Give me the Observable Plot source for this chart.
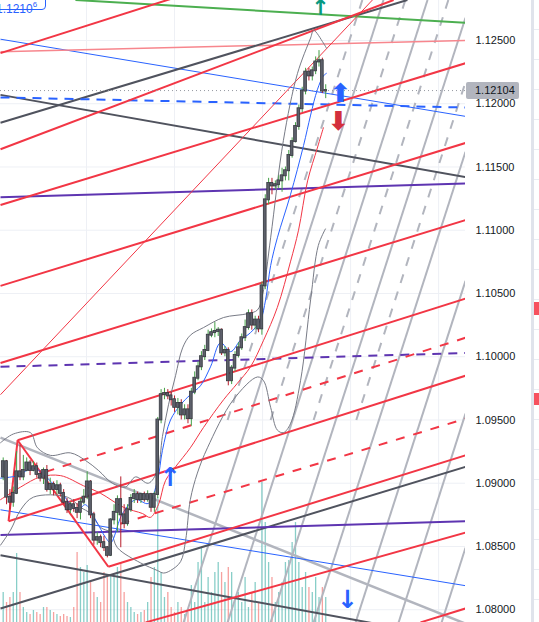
<!DOCTYPE html>
<html><head><meta charset="utf-8">
<script src="https://cdn.jsdelivr.net/npm/d3@7"></script>
<script src="https://cdn.jsdelivr.net/npm/@observablehq/plot@0.6"></script>
<style>
html,body{margin:0;padding:0;background:#fff;}
#wrap{position:relative;width:539px;height:622px;overflow:hidden;font-family:"Liberation Sans",Arial,sans-serif;}
#wrap svg{display:block;position:absolute;left:0;top:0;}
.tagL{position:absolute;left:-14px;top:-9px;width:60px;height:19px;border:1px solid #2962ff;border-radius:4px;background:#fff;color:#2962ff;font-size:12px;line-height:26px;padding-left:9px;box-sizing:border-box;}
.tagL sup{font-size:8px;vertical-align:6px;}
.tagR{position:absolute;left:466px;top:82px;width:53px;height:17px;background:#b2b5be;color:#131722;font-size:11px;line-height:17px;border-radius:2px;padding-left:9px;box-sizing:border-box;}
.strip{position:absolute;left:531px;top:0;width:3px;height:622px;background:#e0e3eb;}
.strip2{position:absolute;left:534px;top:0;width:5px;height:622px;background:repeating-linear-gradient(to bottom,#fff 0px,#fff 29px,#e9ecf2 29px,#e9ecf2 30px);}
.mk{position:absolute;left:534px;width:5px;background:#f7525f;}
</style></head><body><div id="wrap"></div>
<script>
// ---- candles (one value per bar) ----
const open = [1.0905,1.0917,1.0889,1.0885,1.0892,1.0909,1.0905,1.0910,1.0916,1.0910,1.0913,1.0907,1.0904,1.0910,1.0895,1.0899,1.0895,1.0898,1.0892,1.0885,1.0879,1.0883,1.0880,1.0877,1.0885,1.0889,1.0901,1.0875,1.0855,1.0857,1.0853,1.0849,1.0843,1.0871,1.0877,1.0887,1.0875,1.0868,1.0879,1.0888,1.0891,1.0887,1.0891,1.0887,1.0891,1.0881,1.0891,1.0950,1.0970,1.0971,1.0969,1.0966,1.0960,1.0963,1.0954,1.0958,1.0951,1.0972,1.0983,1.0992,1.1000,1.1005,1.1017,1.1019,1.1020,1.1021,1.1003,1.1005,1.0981,1.0991,1.1001,1.1007,1.1015,1.1023,1.1034,1.1025,1.1029,1.1022,1.1056,1.1124,1.1137,1.1135,1.1136,1.1139,1.1143,1.1147,1.1159,1.1170,1.1182,1.1196,1.1210,1.1225,1.1222,1.1226,1.1233,1.1234,1.1210];
const high = [1.0920,1.0918,1.0895,1.0897,1.0925,1.0930,1.0922,1.0920,1.0918,1.0917,1.0916,1.0910,1.0912,1.0914,1.0904,1.0901,1.0902,1.0900,1.0895,1.0888,1.0885,1.0887,1.0884,1.0888,1.0895,1.0909,1.0902,1.0877,1.0861,1.0859,1.0858,1.0850,1.0872,1.0883,1.0890,1.0905,1.0883,1.0883,1.0891,1.0895,1.0893,1.0892,1.0893,1.0894,1.0892,1.0893,1.0952,1.0974,1.0975,1.0974,1.0972,1.0969,1.0967,1.0966,1.0962,1.0962,1.0975,1.0988,1.0996,1.1004,1.1009,1.1021,1.1022,1.1027,1.1023,1.1022,1.1008,1.1007,1.0993,1.1004,1.1011,1.1018,1.1029,1.1037,1.1037,1.1032,1.1032,1.1059,1.1128,1.1141,1.1141,1.1139,1.1143,1.1149,1.1150,1.1163,1.1173,1.1185,1.1199,1.1213,1.1228,1.1228,1.1229,1.1237,1.1242,1.1236,1.1215];
const low = [1.0902,1.0883,1.0879,1.0881,1.0891,1.0902,1.0902,1.0909,1.0906,1.0909,1.0904,1.0901,1.0899,1.0893,1.0891,1.0890,1.0891,1.0889,1.0883,1.0876,1.0876,1.0877,1.0872,1.0871,1.0883,1.0887,1.0872,1.0851,1.0851,1.0849,1.0846,1.0841,1.0842,1.0867,1.0861,1.0849,1.0864,1.0866,1.0877,1.0884,1.0884,1.0884,1.0885,1.0885,1.0877,1.0877,1.0888,1.0947,1.0966,1.0966,1.0961,1.0956,1.0954,1.0950,1.0950,1.0947,1.0945,1.0970,1.0981,1.0989,1.0997,1.1004,1.1015,1.1015,1.1016,1.1001,1.1000,1.0977,1.0978,1.0988,1.0999,1.1005,1.1012,1.1021,1.1021,1.1021,1.1019,1.1017,1.1053,1.1120,1.1128,1.1132,1.1133,1.1130,1.1139,1.1139,1.1157,1.1169,1.1179,1.1193,1.1207,1.1218,1.1218,1.1223,1.1229,1.1208,1.1204];
const close = [1.0917,1.0889,1.0885,1.0892,1.0909,1.0905,1.0910,1.0916,1.0910,1.0913,1.0907,1.0904,1.0910,1.0895,1.0899,1.0895,1.0898,1.0892,1.0885,1.0879,1.0883,1.0880,1.0877,1.0885,1.0889,1.0901,1.0875,1.0855,1.0857,1.0853,1.0849,1.0843,1.0871,1.0877,1.0887,1.0875,1.0868,1.0879,1.0888,1.0891,1.0887,1.0891,1.0887,1.0891,1.0881,1.0891,1.0950,1.0970,1.0971,1.0969,1.0966,1.0960,1.0963,1.0954,1.0958,1.0951,1.0972,1.0983,1.0992,1.1000,1.1005,1.1017,1.1019,1.1020,1.1021,1.1003,1.1005,1.0981,1.0991,1.1001,1.1007,1.1015,1.1023,1.1034,1.1025,1.1029,1.1022,1.1056,1.1124,1.1137,1.1135,1.1136,1.1139,1.1143,1.1147,1.1159,1.1170,1.1182,1.1196,1.1210,1.1225,1.1222,1.1226,1.1233,1.1234,1.1210,1.12104];
const volume = [30,20,25,30,69,30,15,10,8,12,10,8,15,15,12,10,8,6,8,6,5,15,70,55,50,57,40,30,25,20,50,45,48,45,55,60,30,20,15,10,8,10,12,20,45,55,125,50,25,30,15,10,20,15,8,10,37,20,60,75,20,45,30,50,60,50,40,55,50,25,30,20,45,15,30,40,20,140,100,60,45,20,30,40,60,62,80,100,60,35,50,35,30,45,25,35,25];
const lastPrice = 1.12104;
const priceTicks = [1.080,1.085,1.090,1.095,1.100,1.105,1.110,1.115,1.120,1.125];
const timeGrid = [24.8,51.0,77.2,103.4,129.6];

// ---- indicator curves: [bar, price] ----
const maBlue = [[-0.8,1.0904],[4.3,1.0906],[9.0,1.0912],[13.2,1.0904],[17.7,1.0891],[22.1,1.0879],[24.5,1.0883],[27.5,1.0871],[30.5,1.0857],[32.0,1.0853],[35.5,1.0876],[39.4,1.0887],[43.2,1.0884],[45.9,1.0902],[47.4,1.0926],[49.8,1.0950],[52.8,1.0962],[55.7,1.0970],[58.7,1.0977],[61.7,1.0992],[64.7,1.1011],[67.7,1.1004],[70.6,1.1013],[73.6,1.1019],[76.6,1.1029],[78.1,1.1045],[79.6,1.1072],[81.6,1.1094],[85.5,1.1128],[89.4,1.1167],[91.5,1.1191],[93.5,1.1211],[95.3,1.1222],[96.2,1.1224]];
const maRed = [[-0.8,1.0887],[5.2,1.0897],[11.1,1.0905],[17.1,1.0906],[23.9,1.0898],[29.0,1.0892],[35.8,1.0881],[41.5,1.0876],[43.8,1.0873],[46.2,1.0883],[48.3,1.0902],[51.3,1.0913],[55.7,1.0928],[59.6,1.0944],[65.6,1.0966],[69.7,1.0979],[73.6,1.0992],[77.5,1.1013],[81.6,1.1039],[85.5,1.1075],[87.9,1.1100],[90.6,1.1139],[93.5,1.1165],[95.3,1.1181]];
const bandUpper = [[-0.8,1.0932],[3.1,1.0939],[8.1,1.0940],[10.2,1.0928],[14.1,1.0922],[20.0,1.0924],[24.5,1.0918],[28.4,1.0910],[32.5,1.0900],[36.4,1.0897],[39.4,1.0905],[43.2,1.0900],[45.9,1.0910],[47.4,1.0937],[49.2,1.0962],[51.3,1.0985],[53.4,1.1007],[55.7,1.1017],[59.6,1.1023],[65.6,1.1031],[72.7,1.1034],[75.7,1.1037],[77.2,1.1049],[79.6,1.1094],[83.4,1.1171],[87.6,1.1224],[91.5,1.1252],[92.4,1.1258],[95.3,1.1248],[96.2,1.1244]];
const bandLower = [[-0.8,1.0851],[2.2,1.0863],[5.2,1.0879],[9.0,1.0889],[19.1,1.0889],[23.0,1.0881],[26.0,1.0876],[29.0,1.0865],[32.0,1.0861],[34.0,1.0849],[40.9,1.0837],[45.9,1.0831],[47.7,1.0829],[49.8,1.0831],[52.8,1.0838],[54.3,1.0855],[55.7,1.0887],[57.8,1.0908],[60.8,1.0928],[68.5,1.0966],[75.7,1.0984],[77.5,1.0981],[79.6,1.0960],[81.6,1.0942],[83.4,1.0940],[85.5,1.0947],[88.5,1.0981],[91.5,1.1045],[93.8,1.1088],[95.9,1.1101]];

// ---- drawn trend lines: [bar1, price1, bar2, price2] ----
const redSolid = [[-0.8,1.1240,137.6,1.1357],[-0.8,1.1164,116.2,1.1282],[-0.8,1.1120,137.6,1.1232],[-0.8,1.1056,137.6,1.1169],[-0.8,1.0995,137.6,1.1108],[4.3,1.0934,137.6,1.1046],[1.6,1.0870,137.6,1.0985],[31.3,1.0834,137.6,1.0922],[4.3,1.0934,31.3,1.0834],[4.3,1.0934,1.6,1.0870],[42.4,1.0790,137.6,1.0861],[124.2,1.0790,137.6,1.0801]];
const redDashed = [[12.6,1.0909,137.6,1.1015],[34.9,1.0868,137.6,1.0951]];
const redThin = [[-0.8,1.0970,109.9,1.1282]];
const pinkThin = [[-0.8,1.1241,137.6,1.1250]];
const darkLines = [[-0.8,1.1185,120.3,1.1282],[-0.8,1.1207,137.6,1.1142],[-0.8,1.0801,137.6,1.0913],[-0.8,1.0843,137.6,1.0776]];
const greenLines = [[21.5,1.1282,137.6,1.1264]];
const blueThin = [[-0.8,1.1251,137.6,1.1190],[-0.8,1.0879,137.6,1.0819]];
const blueDashed = [[-0.8,1.1205,137.6,1.1197]];
const purpleSolid = [[-0.8,1.1126,137.6,1.1137],[-0.8,1.0859,137.6,1.0870]];
const purpleDashed = [[-0.8,1.0992,137.6,1.1003]];
const greyThick = [[-0.8,1.0936,137.6,1.0789]];
const greySteep = [[53.7,1.0790,113.2,1.1282],[66.8,1.0790,126.3,1.1282],[79.6,1.0790,137.6,1.1268],[92.4,1.0790,137.6,1.1162],[104.9,1.0790,137.6,1.1060],[117.7,1.0790,137.6,1.0955],[130.5,1.0790,137.6,1.0849]];
const greySteepDashed = [[66.8,1.0950,106.9,1.1282],[79.6,1.0950,119.7,1.1282],[92.4,1.0950,132.5,1.1282],[105.1,1.0950,137.6,1.1217]];

// ---- arrow markers ----
const arrows = [
  {bar:100.4, price:1.1208, glyph:"⬆", color:"#2962ff", size:26},
  {bar:99.8, price:1.1186, glyph:"⬇", color:"#d32f3c", size:26},
  {bar:94.4, price:1.1276, glyph:"↑", color:"#089981", size:22},
  {bar:49.8, price:1.0904, glyph:"↑", color:"#2962ff", size:26},
  {bar:102.5, price:1.0808, glyph:"↓", color:"#2962ff", size:25}
];

const candles = open.map((o, i) => ({i, o, h: high[i], l: low[i], c: close[i], v: volume[i]}));
const yMin = 1.07899, yMax = 1.12816;
const volTop = v => yMin + v / 140 * 0.225 * (yMax - yMin);

const seg = (data, opts) => Plot.link(data, {x1: d => d[0], y1: d => d[1], x2: d => d[2], y2: d => d[3], clip: true, ...opts});
const curve = (data, opts) => Plot.line(data, {x: d => d[0], y: d => d[1], clip: true, curve: "catmull-rom", ...opts});

const chart = Plot.plot({
  width: 539, height: 622,
  marginLeft: 0, marginRight: 74, marginTop: 0, marginBottom: 0,
  style: {background: "transparent", fontFamily: "Liberation Sans, Arial, sans-serif", fontSize: "11px", color: "#131722"},
  x: {domain: [-0.8, 137.6], axis: null},
  y: {domain: [yMin, yMax], axis: null},
  marks: [
    Plot.gridY(priceTicks, {stroke: "#eef0f5", strokeOpacity: 1}),
    Plot.gridX(timeGrid, {stroke: "#eef0f5", strokeOpacity: 1}),
    Plot.ruleX(candles, {x: "i", y1: yMin, y2: d => volTop(d.v), stroke: d => d.c >= d.o ? "#26a69a" : "#ef5350", strokeOpacity: 0.55, strokeWidth: 1.3}),
    seg(greySteep, {stroke: "#b2b5be", strokeWidth: 2}),
    seg(greySteepDashed, {stroke: "#b2b5be", strokeWidth: 2, strokeDasharray: "9,9"}),
    seg(greyThick, {stroke: "#b2b5be", strokeWidth: 2.5}),
    seg(blueThin, {stroke: "#2962ff", strokeWidth: 1}),
    seg(pinkThin, {stroke: "#f7868d", strokeWidth: 1.5}),
    seg(darkLines, {stroke: "#50535e", strokeWidth: 2}),
    seg(purpleSolid, {stroke: "#5e35b1", strokeWidth: 2}),
    seg(purpleDashed, {stroke: "#5e35b1", strokeWidth: 2, strokeDasharray: "9,7"}),
    seg(blueDashed, {stroke: "#2962ff", strokeWidth: 2, strokeDasharray: "9,7"}),
    seg(greenLines, {stroke: "#4caf50", strokeWidth: 2}),
    seg(redThin, {stroke: "#f23645", strokeWidth: 1}),
    seg(redDashed, {stroke: "#f23645", strokeWidth: 2, strokeDasharray: "9,9"}),
    seg(redSolid, {stroke: "#f23645", strokeWidth: 2}),
    curve(bandUpper, {stroke: "#787b86", strokeWidth: 1}),
    curve(bandLower, {stroke: "#787b86", strokeWidth: 1}),
    curve(maRed, {stroke: "#f23645", strokeWidth: 1}),
    curve(maBlue, {stroke: "#2962ff", strokeWidth: 1}),
    Plot.ruleY([lastPrice], {stroke: "#9598a1", strokeDasharray: "1,3"}),
    Plot.ruleX(candles, {x: "i", y1: "l", y2: "h", stroke: d => d.c >= d.o ? "#43a047" : "#b71c2a", strokeWidth: 1}),
    Plot.rect(candles, {x1: d => d.i - 0.4, x2: d => d.i + 0.4, y1: d => Math.min(d.o, d.c), y2: d => Math.max(d.o, d.c), fill: "#5d606b", stroke: "#35383f", strokeWidth: 0.8, insetTop: -0.5, insetBottom: -0.5}),
    Plot.text(arrows, {x: "bar", y: "price", text: "glyph", fill: "color", fontSize: d => d.size, fontWeight: "bold", fontFamily: "DejaVu Sans", clip: true}),
    Plot.axisY(priceTicks, {anchor: "right", tickSize: 0, tickPadding: 10, tickFormat: d => d.toFixed(5), fontSize: 11, fill: "#131722"})
  ]
});
const wrap = document.getElementById("wrap");
wrap.appendChild(chart);
const add = (cls, html, style) => { const d = document.createElement("div"); d.className = cls; if (html) d.innerHTML = html; if (style) d.style.cssText = style; wrap.appendChild(d); };
add("tagL", "1.1210<sup>6</sup>");
add("tagR", lastPrice.toFixed(5));
add("strip");
add("strip2");
add("mk", "", "top:302px;height:13px;");
add("mk", "", "top:393px;height:12px;");
</script></body></html>
